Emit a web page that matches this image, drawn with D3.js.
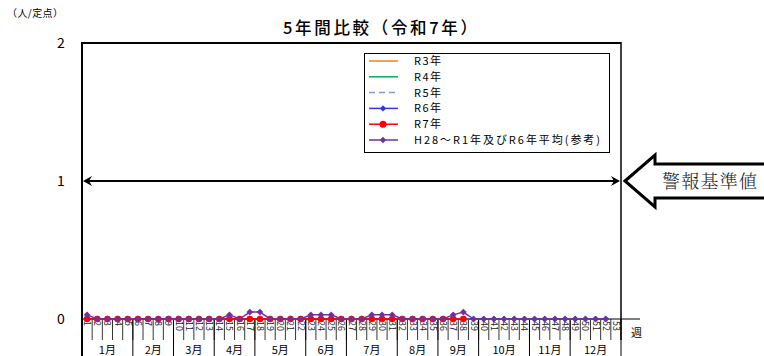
<!DOCTYPE html>
<html><head><meta charset="utf-8">
<script src="https://cdn.jsdelivr.net/npm/d3@7"></script>
<style>
body{margin:0;background:#fff;}
svg{display:block;font-family:"Noto Sans CJK JP","Noto Sans",sans-serif;}
</style></head>
<body><svg id="c" width="764" height="356"></svg>
<script>
const weeks = d3.range(1, 54);
const yTicks = [0, 1, 2];
const months = ["1月","2月","3月","4月","5月","6月","7月","8月","9月","10月","11月","12月"];
const monthStartWeek = [1, 6, 10, 14, 18, 23, 27, 32, 36, 40, 45, 49];
const monthEndWeek   = [5, 9, 13, 17, 22, 26, 31, 35, 39, 44, 48, 53];
const alertValue = 1;
const seriesNames = ["R3年","R4年","R5年","R6年","R7年","H28～R1年及びR6年平均(参考)"];
const r3 = [0,0,0,0,0,0,0,0,0,0,0,0,0,0,0,0,0,0,0,0,0,0,0,0,0,0,0,0,0,0,0,0,0,0,0,0,0,0,0,0,0,0,0,0,0,0,0,0,0,0,0,0];
const r4 = [0,0,0,0,0,0,0,0,0,0,0,0,0,0,0,0,0,0,0,0,0,0,0,0,0,0,0,0,0,0,0,0,0,0,0,0,0,0,0,0,0,0,0,0,0,0,0,0,0,0,0,0];
const r5 = [0,0,0,0,0,0,0,0,0,0,0,0,0,0,0,0,0,0,0,0,0,0,0,0,0,0,0,0,0,0,0,0,0,0,0,0,0,0,0,0,0,0,0,0,0,0,0,0,0,0,0,0];
const r6 = [0,0,0,0,0,0,0,0,0,0,0,0,0,0,0,0,0,0,0,0,0,0,0,0,0,0,0,0,0,0,0,0,0,0,0,0,0,0,0,0,0,0,0,0,0,0,0,0,0,0,0,0];
const r7 = [0,0,0,0,0,0,0,0,0,0,0,0,0,0,0,0,0,0,0,0,0,0,0,0,0,0,0,0,0,0,0,0,0,0,0,0,0,0];
const avg = [0.03,0,0,0,0,0,0,0,0,0,0,0,0,0,0.03,0,0.05,0.05,0,0,0,0,0.03,0.03,0.03,0,0,0,0.03,0.03,0.03,0,0,0,0,0,0.03,0.05,0,0,0,0,0,0,0,0,0,0,0,0,0,0];

const svg = d3.select("#c");
const L = 82, R = 621, T = 43, B = 319;
const x = d3.scaleBand().domain(weeks).range([L, R]);
const y = d3.scaleLinear().domain([0, 2]).range([B, T]);
const cx = w => x(w) + x.bandwidth() / 2;

// title
svg.append("text").attr("x", 283).attr("y", 34)
  .attr("font-size", 16.5).attr("font-weight", 500)
  .attr("textLength", 194).attr("lengthAdjust", "spacing").text("5年間比較（令和7年）");
svg.append("text").attr("x", 7).attr("y", 17).attr("font-size", 10)
  .attr("textLength", 56).attr("lengthAdjust", "spacing").text("（人/定点）");

// y labels
svg.selectAll(".yl").data(yTicks).enter().append("text")
  .attr("x", 61).attr("y", d => y(d) + 5).attr("text-anchor", "middle")
  .attr("font-size", 14).text(d => d);

// plot frame
svg.append("line").attr("x1", L).attr("x2", R).attr("y1", T).attr("y2", T).attr("stroke", "#000").attr("stroke-width", 2);
svg.append("line").attr("x1", L).attr("x2", L).attr("y1", T - 1).attr("y2", 356).attr("stroke", "#000").attr("stroke-width", 2);
svg.append("line").attr("x1", R).attr("x2", R).attr("y1", T - 1).attr("y2", 340).attr("stroke", "#000").attr("stroke-width", 1.5);
svg.append("line").attr("x1", L).attr("x2", 640).attr("y1", B).attr("y2", B).attr("stroke", "#000").attr("stroke-width", 1);

// week tick separators
svg.selectAll(".wt").data(weeks.slice(1)).enter().append("line")
  .attr("x1", d => x(d)).attr("x2", d => x(d)).attr("y1", B).attr("y2", 340)
  .attr("stroke", "#000").attr("stroke-width", 0.8);
// week labels
svg.selectAll(".wl").data(weeks).enter().append("text")
  .attr("transform", d => `translate(${cx(d) - 3},${B + 2}) rotate(90)`)
  .attr("font-size", 9).attr("fill", "#222").text(d => d);
svg.append("text").attr("x", 631).attr("y", 337).attr("font-size", 11).text("週");

// month separators and labels
svg.selectAll(".ms").data(monthEndWeek).enter().append("line")
  .attr("x1", d => x(d) + x.bandwidth()).attr("x2", d => x(d) + x.bandwidth())
  .attr("y1", B).attr("y2", 356).attr("stroke", "#000").attr("stroke-width", 1);
svg.selectAll(".ml").data(months).enter().append("text")
  .attr("x", (d, i) => (x(monthStartWeek[i]) + x(monthEndWeek[i]) + x.bandwidth()) / 2)
  .attr("y", 354).attr("text-anchor", "middle").attr("font-size", 11).text(d => d);

// lines
const line = d3.line().x((d, i) => cx(weeks[i])).y(d => y(d));
const series = [
  {v: r3, c: "#F58220", dash: null, m: null},
  {v: r4, c: "#00B050", dash: null, m: null},
  {v: r5, c: "#7F9BD0", dash: "6,4", m: null},
  {v: r6, c: "#2E3BD6", dash: null, m: "diamond"},
  {v: r7, c: "#FF0000", dash: null, m: "circle"},
  {v: avg, c: "#7030A0", dash: null, m: "diamond"}
];
series.forEach(s => {
  svg.append("path").attr("d", line(s.v)).attr("fill", "none")
    .attr("stroke", s.c).attr("stroke-width", 1.5).attr("stroke-dasharray", s.dash);
  if (s.m === "circle") {
    svg.selectAll(null).data(s.v).enter().append("circle")
      .attr("cx", (d, i) => cx(weeks[i])).attr("cy", d => y(d)).attr("r", 3.3).attr("fill", s.c);
  } else if (s.m === "diamond") {
    svg.selectAll(null).data(s.v).enter().append("path")
      .attr("d", d3.symbol().type(d3.symbolSquare).size(22))
      .attr("transform", (d, i) => `translate(${cx(weeks[i])},${y(d)}) rotate(45)`).attr("fill", s.c);
  }
});

// alert double arrow
const ay = y(alertValue);
svg.append("line").attr("x1", L + 4).attr("x2", R - 4).attr("y1", ay).attr("y2", ay).attr("stroke", "#000").attr("stroke-width", 2);
svg.append("path").attr("d", `M${L + 1},${ay} l9,-5 l-3,5 l3,5 z`).attr("fill", "#000");
svg.append("path").attr("d", `M${R - 1},${ay} l-9,-5 l3,5 l-3,5 z`).attr("fill", "#000");

// block arrow
svg.append("path").attr("d", `M625,${ay} L655,${ay - 26} L655,${ay - 17} L770,${ay - 17} L770,${ay + 17} L655,${ay + 17} L655,${ay + 26} Z`)
  .attr("fill", "#fff").attr("stroke", "#000").attr("stroke-width", 3).attr("stroke-linejoin", "miter");
svg.append("text").attr("x", 662).attr("y", ay + 7).attr("font-size", 18).attr("font-weight", 300)
  .attr("fill", "#222").attr("textLength", 95).attr("lengthAdjust", "spacing")
  .attr("font-family", "'Noto Serif CJK JP','Noto Sans CJK JP',serif").text("警報基準値");

// legend
const lg = svg.append("g");
const legendTextLen = [27, 27, 27, 27, 27, 186];
lg.append("rect").attr("x", 364.5).attr("y", 53.5).attr("width", 245).attr("height", 99).attr("fill", "#fff").attr("stroke", "#000").attr("stroke-width", 1);
seriesNames.forEach((n, i) => {
  const yy = 61 + i * 15.8;
  const s = series[i];
  lg.append("line").attr("x1", 369).attr("x2", 398).attr("y1", yy).attr("y2", yy)
    .attr("stroke", s.c).attr("stroke-width", 1.5).attr("stroke-dasharray", s.dash);
  if (s.m === "circle") lg.append("circle").attr("cx", 383).attr("cy", yy).attr("r", 3.5).attr("fill", s.c);
  if (s.m === "diamond") lg.append("path").attr("d", d3.symbol().type(d3.symbolSquare).size(20)())
    .attr("transform", `translate(383,${yy}) rotate(45)`).attr("fill", s.c);
  lg.append("text").attr("x", 414).attr("y", yy + 4).attr("font-size", 11)
    .attr("textLength", legendTextLen[i]).attr("lengthAdjust", "spacing").text(n);
});
</script></body></html>
